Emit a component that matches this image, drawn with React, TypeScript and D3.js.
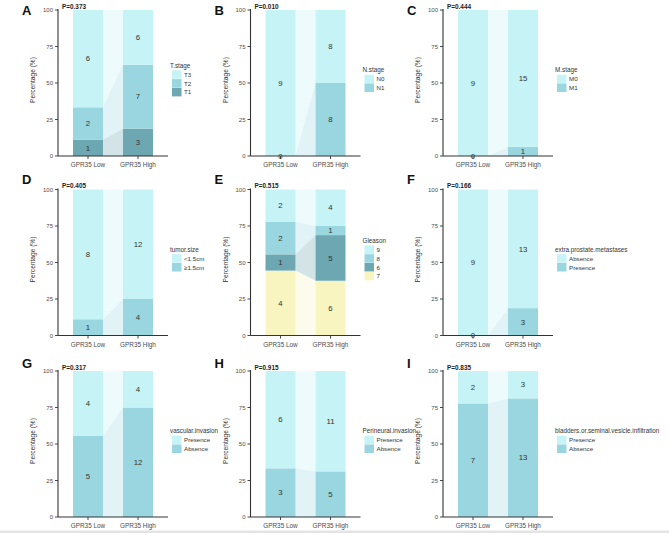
import React from "react";
import * as d3 from "d3";

const W = 669;
const H = 533;

const groups = ["GPR35 Low", "GPR35 High"];
const yTicks = [0, 25, 50, 75, 100];

const tStageLevels = ["T3", "T2", "T1"];
const tStageLow = [6, 2, 1];
const tStageHigh = [6, 7, 3];

const nStageLevels = ["N0", "N1"];
const nStageLow = [9, 0];
const nStageHigh = [8, 8];

const mStageLevels = ["M0", "M1"];
const mStageLow = [9, 0];
const mStageHigh = [15, 1];

const tumorSizeLevels = ["<1.5cm", "≥1.5cm"];
const tumorSizeLow = [8, 1];
const tumorSizeHigh = [12, 4];

const gleasonLevels = ["9", "8", "6", "7"];
const gleasonLow = [2, 2, 1, 4];
const gleasonHigh = [4, 1, 5, 6];

const metastasesLevels = ["Absence", "Presence"];
const metastasesLow = [9, 0];
const metastasesHigh = [13, 3];

const vascularLevels = ["Presence", "Absence"];
const vascularLow = [4, 5];
const vascularHigh = [4, 12];

const perineuralLevels = ["Presence", "Absence"];
const perineuralLow = [6, 3];
const perineuralHigh = [11, 5];

const bladderLevels = ["Presence", "Absence"];
const bladderLow = [2, 7];
const bladderHigh = [3, 13];

const panelLetters = ["A", "B", "C", "D", "E", "F", "G", "H", "I"];
const pValues = ["0.373", "0.010", "0.444", "0.405", "0.515", "0.166", "0.317", "0.915", "0.835"];
const legendTitles = [
  "T.stage",
  "N.stage",
  "M.stage",
  "tumor.size",
  "Gleason",
  "extra.prostate.metastases",
  "vascular.invasion",
  "Perineural.invasion",
  "bladders.or.seminal.vesicle.infiltration",
];

const LIGHT = "#c5f3f6";
const MID = "#9ad6e0";
const DARK = "#6ca7b2";
const YELLOW = "#f9f5c1";

const panels = [
  { levels: tStageLevels, low: tStageLow, high: tStageHigh, colors: [LIGHT, MID, DARK] },
  { levels: nStageLevels, low: nStageLow, high: nStageHigh, colors: [LIGHT, MID] },
  { levels: mStageLevels, low: mStageLow, high: mStageHigh, colors: [LIGHT, MID] },
  { levels: tumorSizeLevels, low: tumorSizeLow, high: tumorSizeHigh, colors: [LIGHT, MID] },
  { levels: gleasonLevels, low: gleasonLow, high: gleasonHigh, colors: [LIGHT, MID, DARK, YELLOW] },
  { levels: metastasesLevels, low: metastasesLow, high: metastasesHigh, colors: [LIGHT, MID] },
  { levels: vascularLevels, low: vascularLow, high: vascularHigh, colors: [LIGHT, MID] },
  { levels: perineuralLevels, low: perineuralLow, high: perineuralHigh, colors: [LIGHT, MID] },
  { levels: bladderLevels, low: bladderLow, high: bladderHigh, colors: [LIGHT, MID] },
];

const FONT = "'Liberation Sans', Arial, sans-serif";
const axisXs = [58, 250.5, 443];
const rowTops = [10, 189.5, 371];
const letterBaselines = [15, 184, 368];
const PLOT_H = 146;
const PLOT_W = 110;

type PanelProps = {
  idx: number;
};

function Panel({ idx }: PanelProps) {
  const p = panels[idx];
  const col = idx % 3;
  const row = Math.floor(idx / 3);
  const ax = axisXs[col];
  const top = rowTops[row];
  const bottom = top + PLOT_H;
  const y = d3.scaleLinear().domain([0, 100]).range([bottom, top]);
  const x = d3
    .scaleBand<string>()
    .domain(groups)
    .range([ax, ax + PLOT_W])
    .paddingInner(0.4)
    .paddingOuter(0.3);
  const bw = x.bandwidth();

  const keys = [...p.levels].reverse();
  const countsByGroup = [p.low, p.high];
  const table = groups.map((g, gi) => {
    const counts = countsByGroup[gi];
    const total = d3.sum(counts);
    const obj: Record<string, number | string> = { group: g };
    p.levels.forEach((lv, li) => {
      obj[lv] = (counts[li] / total) * 100;
    });
    return obj;
  });
  const series = d3.stack<any>().keys(keys)(table);
  const colorOf = d3.scaleOrdinal<string, string>().domain(p.levels).range(p.colors);
  const countOf = (lv: string, gi: number) => countsByGroup[gi][p.levels.indexOf(lv)];

  const lowX1 = (x(groups[0]) as number) + bw;
  const highX0 = x(groups[1]) as number;
  const midY = (top + bottom) / 2;

  const n = p.levels.length;
  const swH = 8.8;
  const legendH = 9 + n * swH;
  const legendTop = midY - 4 - legendH / 2;
  const legendX = ax + 112;

  return (
    <g>
      <text x={ax - 36} y={letterBaselines[row]} fontSize={13} fontWeight="bold" fill="#111" fontFamily={FONT}>
        {panelLetters[idx]}
      </text>
      {series.map((s) => (
        <path
          key={"f" + s.key}
          d={`M${lowX1},${y(s[0][0])}L${lowX1},${y(s[0][1])}L${highX0},${y(s[1][1])}L${highX0},${y(s[1][0])}Z`}
          fill={colorOf(s.key)}
          fillOpacity={0.3}
        />
      ))}
      {series.map((s) =>
        s.map((d, gi) => (
          <rect
            key={s.key + gi}
            x={x(groups[gi])}
            y={y(d[1])}
            width={bw}
            height={Math.max(0, y(d[0]) - y(d[1]))}
            fill={colorOf(s.key)}
          />
        ))
      )}
      {series.map((s) =>
        s.map((d, gi) => (
          <text
            key={"t" + s.key + gi}
            x={(x(groups[gi]) as number) + bw / 2}
            y={y((d[0] + d[1]) / 2)}
            dy="0.35em"
            textAnchor="middle"
            fontSize={7.8}
            fill="#333"
            fontFamily={FONT}
          >
            {countOf(s.key as string, gi)}
          </text>
        ))
      )}
      <line x1={ax} x2={ax} y1={top - 1} y2={bottom} stroke="#333" strokeWidth={1.1} />
      <line x1={ax} x2={ax + PLOT_W} y1={bottom} y2={bottom} stroke="#333" strokeWidth={1.1} />
      {yTicks.map((t) => (
        <g key={"y" + t}>
          <line x1={ax - 3} x2={ax} y1={y(t)} y2={y(t)} stroke="#333" strokeWidth={0.9} />
          <text x={ax - 5} y={y(t)} dy="0.35em" textAnchor="end" fontSize={6} fill="#4d4d4d" fontFamily={FONT}>
            {t}
          </text>
        </g>
      ))}
      {groups.map((g) => (
        <g key={"x" + g}>
          <line
            x1={(x(g) as number) + bw / 2}
            x2={(x(g) as number) + bw / 2}
            y1={bottom}
            y2={bottom + 3}
            stroke="#333"
            strokeWidth={0.9}
          />
          <text
            x={(x(g) as number) + bw / 2}
            y={bottom + 11}
            textAnchor="middle"
            fontSize={6.4}
            fill="#4d4d4d"
            fontFamily={FONT}
          >
            {g}
          </text>
        </g>
      ))}
      <text
        transform={`translate(${ax - 25},${midY - 3}) rotate(-90)`}
        textAnchor="middle"
        dy="0.35em"
        fontSize={6.6}
        fill="#333"
        fontFamily={FONT}
      >
        Percentage (%)
      </text>
      <text x={ax + 4} y={top - 1.5} fontSize={6.4} fontWeight="bold" fill="#222" fontFamily={FONT}>
        {"P=" + pValues[idx]}
      </text>
      <text x={legendX} y={legendTop + 6.5} fontSize={6.3} fill="#333" fontFamily={FONT}>
        {legendTitles[idx]}
      </text>
      {p.levels.map((lv, li) => (
        <g key={"l" + lv}>
          <rect x={legendX + 2} y={legendTop + 9 + li * swH} width={9.5} height={swH - 0.3} fill={colorOf(lv)} />
          <text
            x={legendX + 14}
            y={legendTop + 9 + li * swH + swH / 2}
            dy="0.35em"
            fontSize={6.2}
            fill="#333"
            fontFamily={FONT}
          >
            {lv}
          </text>
        </g>
      ))}
    </g>
  );
}

export default function App() {
  return (
    <svg
      width={W}
      height={H}
      viewBox={`0 0 ${W} ${H}`}
      style={{ position: "absolute", left: 0, top: 0, background: "#fff" }}
    >
      <rect x={0} y={0} width={W} height={H} fill="#fff" />
      {panels.map((_, i) => (
        <Panel key={i} idx={i} />
      ))}
      <rect x={0} y={530.5} width={W} height={H - 530.5} fill="#e4e4e4" />
    </svg>
  );
}
